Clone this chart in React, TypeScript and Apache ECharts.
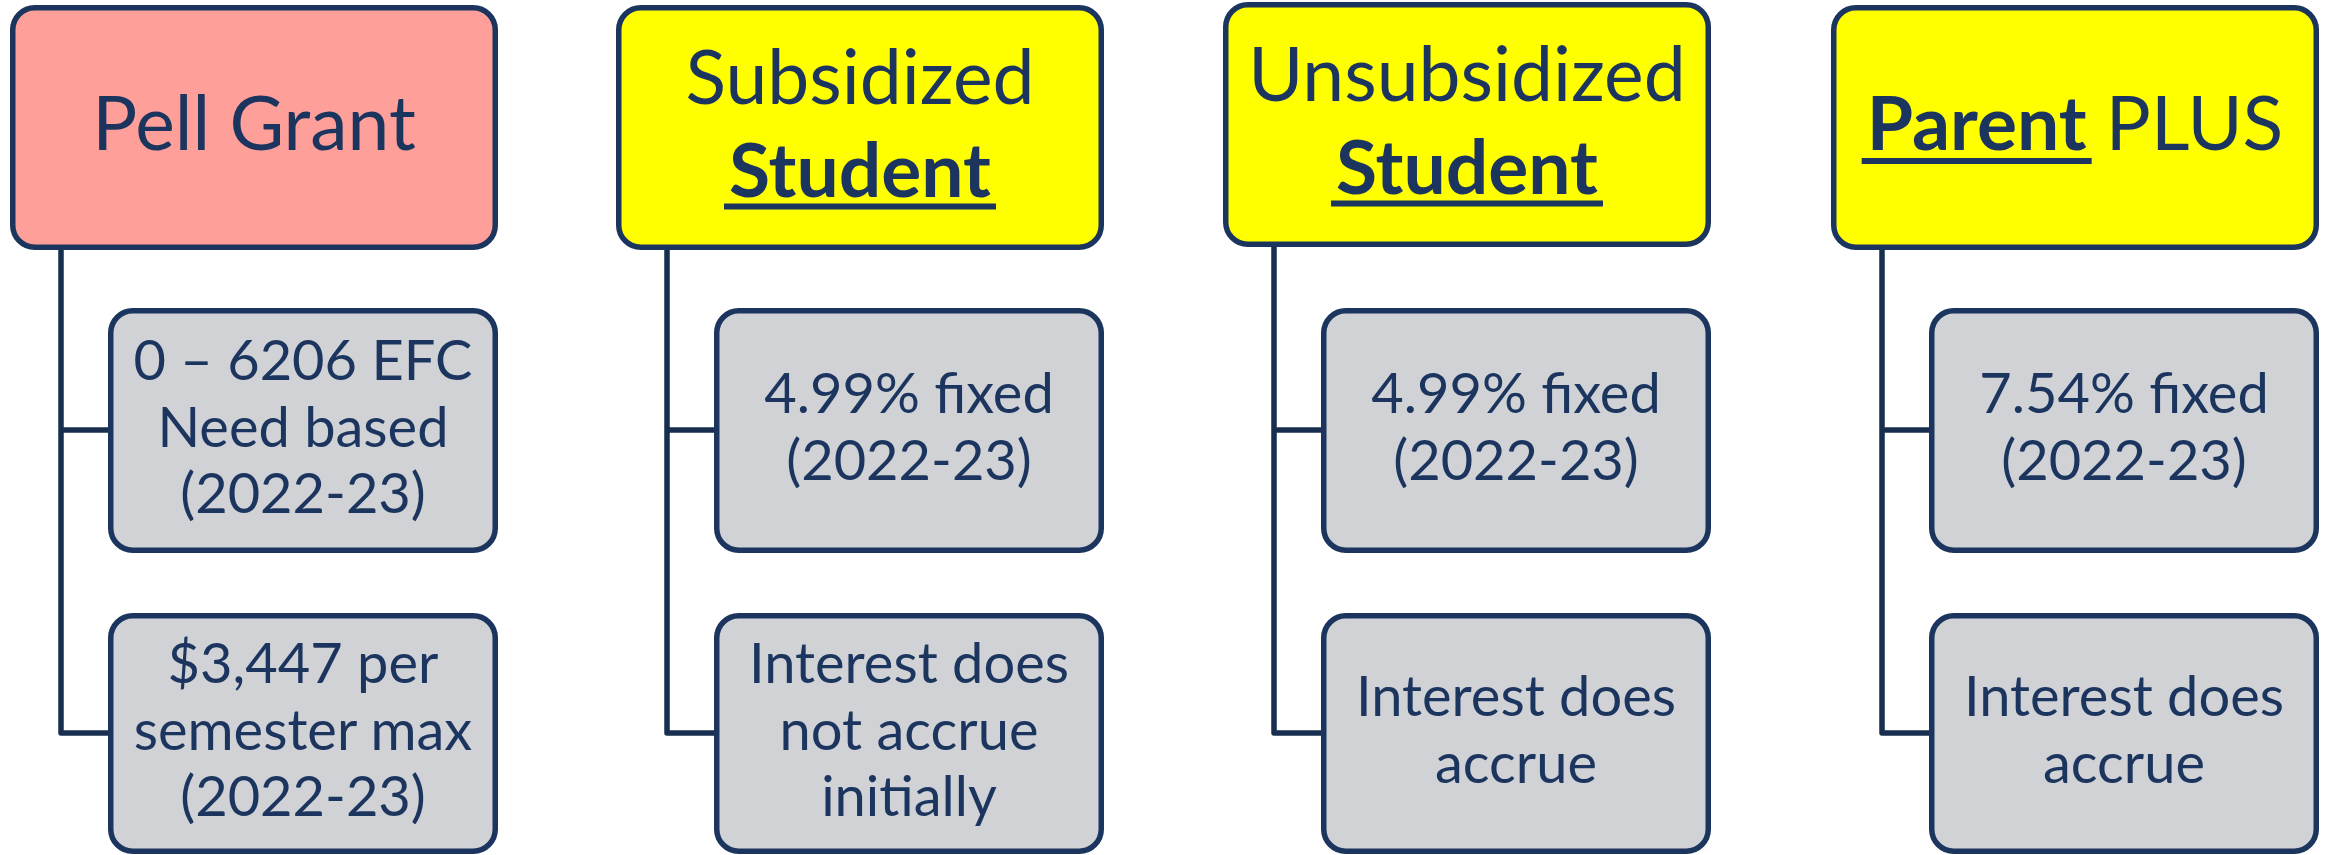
import React, { useEffect, useRef } from "react";
import * as echarts from "echarts";

// ---- content ----
const headerFills = ["#FF9F9A", "#FFFF00", "#FFFF00", "#FFFF00"];
const headerLine1 = ["Pell Grant", "Subsidized", "Unsubsidized", "Parent"];
const headerLine2 = ["", "Student", "Student", "PLUS"];
const child1Lines = [
  ["0 – 6206 EFC", "Need based", "(2022-23)"],
  ["4.99% fixed", "(2022-23)"],
  ["4.99% fixed", "(2022-23)"],
  ["7.54% fixed", "(2022-23)"],
];
const child2Lines = [
  ["$3,447 per", "semester max", "(2022-23)"],
  ["Interest does", "not accrue", "initially"],
  ["Interest does", "accrue"],
  ["Interest does", "accrue"],
];

// ---- layout / style ----
const FAMILY = "Lato";
const NAVY = "#1C355E";
const LINE = "#172E4F";
const CHILD_FILL = "#D0D2D6";
const colLeft = [10, 616, 1223, 1831];
const headerTop = [5, 5, 2, 5];
const HEAD_W = 488;
const HEAD_H = 245;
const CHILD_OFF = 98;
const CHILD_W = 390;
const LW = 5.5;
const HEAD_FS = 75;
const CHILD_FS = 56;
const CHILD_STEP = 66.5;

function measure(text: string, font: string): number {
  const c = document.createElement("canvas").getContext("2d");
  if (!c) return text.length * 30;
  c.font = font;
  return c.measureText(text).width;
}

function txt(text: string, x: number, y: number, fs: number, weight: string, align: string, z = 10) {
  return {
    type: "text",
    x,
    y,
    z,
    style: {
      text,
      fill: NAVY,
      font: `${weight} ${fs}px ${FAMILY}`,
      align,
      verticalAlign: "middle",
      textAlign: align,
      textVerticalAlign: "middle",
    },
  };
}

function rect(x: number, y: number, w: number, h: number, fill: string, z = 5) {
  return {
    type: "rect",
    z,
    shape: { x: x + LW / 2, y: y + LW / 2, width: w - LW, height: h - LW, r: 22 },
    style: { fill, stroke: NAVY, lineWidth: LW },
  };
}

function buildElements() {
  const els: any[] = [];
  const yOff = -2;
  for (let i = 0; i < 4; i++) {
    const L = colLeft[i];
    const top = headerTop[i];
    const bottom = top + HEAD_H;
    const cxHead = L + HEAD_W / 2;
    const conX = L + 51;
    const childL = L + CHILD_OFF;
    const cxChild = childL + CHILD_W / 2;

    // connectors
    els.push({
      type: "polyline",
      z: 1,
      shape: { points: [[conX, bottom - 2], [conX, 733], [childL + 2, 733]] },
      style: { stroke: LINE, lineWidth: LW, fill: null, lineJoin: "round" },
    });
    els.push({
      type: "line",
      z: 1,
      shape: { x1: conX, y1: 430, x2: childL + 2, y2: 430 },
      style: { stroke: LINE, lineWidth: LW },
    });

    // header box
    els.push(rect(L, top, HEAD_W, HEAD_H, headerFills[i]));

    // header text
    if (i === 0) {
      els.push(txt(headerLine1[i], cxHead, 123 + yOff, HEAD_FS, "normal", "center"));
    } else if (i === 3) {
      const fb = `bold ${HEAD_FS}px ${FAMILY}`;
      const fr = `normal ${HEAD_FS}px ${FAMILY}`;
      const wB = measure(headerLine1[i], fb);
      const wS = measure(" ", fr);
      const wR = measure(headerLine2[i], fr);
      const total = wB + wS + wR;
      const sx = cxHead - total / 2;
      els.push(txt(headerLine1[i], sx, 123 + yOff, HEAD_FS, "bold", "left"));
      els.push(txt(headerLine2[i], sx + wB + wS, 123 + yOff, HEAD_FS, "normal", "left"));
      els.push({
        type: "rect",
        z: 10,
        shape: { x: sx - 5, y: 158, width: wB + 10, height: 6 },
        style: { fill: NAVY },
      });
    } else {
      els.push(txt(headerLine1[i], cxHead, top + 71.5 + yOff, HEAD_FS, "normal", "center"));
      els.push(txt(headerLine2[i], cxHead, top + 165 + yOff, HEAD_FS, "bold", "center"));
      const w = measure(headerLine2[i], `bold ${HEAD_FS}px ${FAMILY}`);
      els.push({
        type: "rect",
        z: 10,
        shape: { x: cxHead - w / 2 - 5, y: top + 198.5, width: w + 10, height: 6 },
        style: { fill: NAVY },
      });
    }

    // child boxes
    els.push(rect(childL, 308, CHILD_W, 245, CHILD_FILL));
    els.push(rect(childL, 613, CHILD_W, 241, CHILD_FILL));

    const drawLines = (lines: string[], centre: number) => {
      const n = lines.length;
      lines.forEach((s, k) => {
        const y = centre + (k - (n - 1) / 2) * CHILD_STEP;
        els.push(txt(s, cxChild, y + yOff, CHILD_FS, "normal", "center"));
      });
    };
    drawLines(child1Lines[i], 427);
    drawLines(child2Lines[i], 730);
  }
  return els;
}

export default function App() {
  const ref = useRef<HTMLDivElement>(null);
  useEffect(() => {
    document.body.style.margin = "0";
    if (!ref.current) return;
    const chart = echarts.init(ref.current, null, { renderer: "svg" });
    chart.setOption({
      animation: false,
      backgroundColor: "#FFFFFF",
      graphic: { elements: buildElements() },
    });
    return () => chart.dispose();
  }, []);
  return <div ref={ref} style={{ width: 2330, height: 855 }} />;
}
